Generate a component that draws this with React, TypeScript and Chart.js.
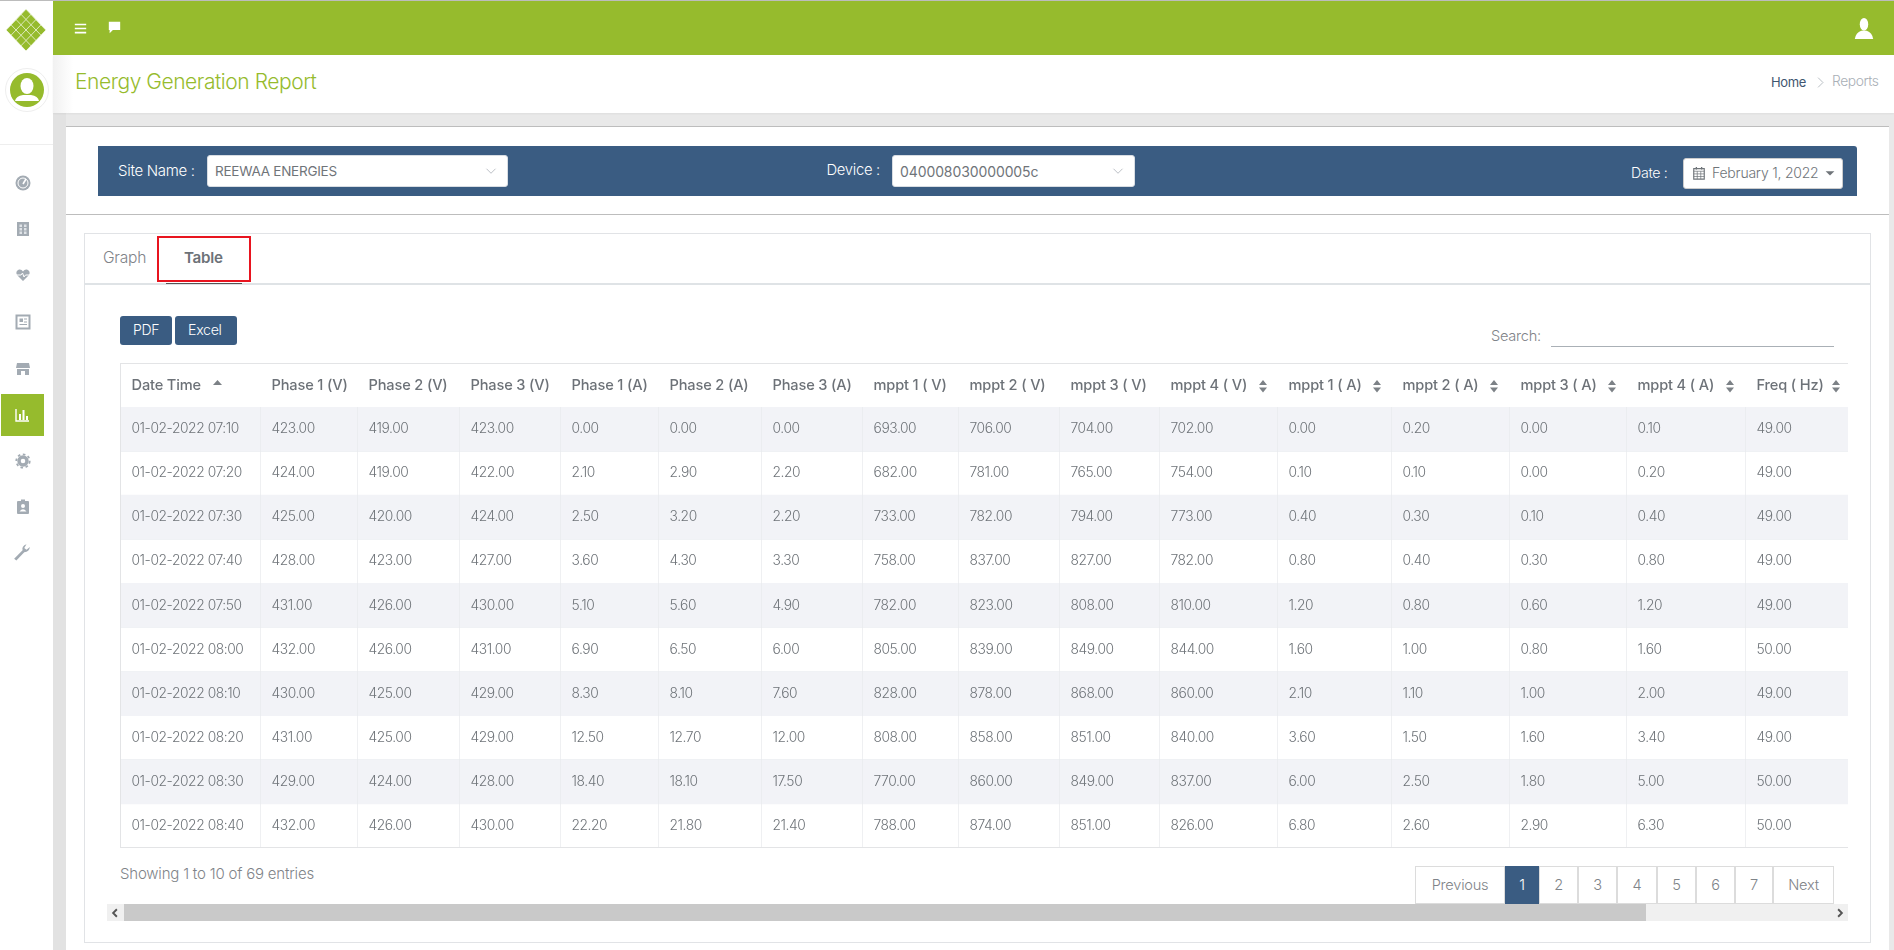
import { useEffect, useRef } from 'react'
import type { CSSProperties, ReactNode } from 'react'
import { Chart, registerables } from 'chart.js'

Chart.register(...registerables)

const FONT = 'Inter, "Noto Sans", sans-serif'
const BLUE = '#3a5c82'
const GREEN = '#96bb2d'
const TEXT = '#6f7479'

const headers = ['Date Time', 'Phase 1 (V)', 'Phase 2 (V)', 'Phase 3 (V)', 'Phase 1 (A)', 'Phase 2 (A)', 'Phase 3 (A)', 'mppt 1 ( V)', 'mppt 2 ( V)', 'mppt 3 ( V)', 'mppt 4 ( V)', 'mppt 1 ( A)', 'mppt 2 ( A)', 'mppt 3 ( A)', 'mppt 4 ( A)', 'Freq ( Hz)']
const dateTimes = ['01-02-2022 07:10', '01-02-2022 07:20', '01-02-2022 07:30', '01-02-2022 07:40', '01-02-2022 07:50', '01-02-2022 08:00', '01-02-2022 08:10', '01-02-2022 08:20', '01-02-2022 08:30', '01-02-2022 08:40']
const phase1V = [423, 424, 425, 428, 431, 432, 430, 431, 429, 432]
const phase2V = [419, 419, 420, 423, 426, 426, 425, 425, 424, 426]
const phase3V = [423, 422, 424, 427, 430, 431, 429, 429, 428, 430]
const phase1A = [0, 2.1, 2.5, 3.6, 5.1, 6.9, 8.3, 12.5, 18.4, 22.2]
const phase2A = [0, 2.9, 3.2, 4.3, 5.6, 6.5, 8.1, 12.7, 18.1, 21.8]
const phase3A = [0, 2.2, 2.2, 3.3, 4.9, 6, 7.6, 12, 17.5, 21.4]
const mppt1V = [693, 682, 733, 758, 782, 805, 828, 808, 770, 788]
const mppt2V = [706, 781, 782, 837, 823, 839, 878, 858, 860, 874]
const mppt3V = [704, 765, 794, 827, 808, 849, 868, 851, 849, 851]
const mppt4V = [702, 754, 773, 782, 810, 844, 860, 840, 837, 826]
const mppt1A = [0, 0.1, 0.4, 0.8, 1.2, 1.6, 2.1, 3.6, 6, 6.8]
const mppt2A = [0.2, 0.1, 0.3, 0.4, 0.8, 1, 1.1, 1.5, 2.5, 2.6]
const mppt3A = [0, 0, 0.1, 0.3, 0.6, 0.8, 1, 1.6, 1.8, 2.9]
const mppt4A = [0.1, 0.2, 0.4, 0.8, 1.2, 1.6, 2, 3.4, 5, 6.3]
const freq = [49, 49, 49, 49, 49, 50, 49, 49, 50, 50]
const valueColumns = [phase1V, phase2V, phase3V, phase1A, phase2A, phase3A, mppt1V, mppt2V, mppt3V, mppt4V, mppt1A, mppt2A, mppt3A, mppt4A, freq]

// column edges along the table's x scale
const columnEdges = [0, 140, 237, 339, 440, 538, 641, 742, 838, 939, 1039, 1157, 1271, 1389, 1506, 1625, 1728]
const sortArrowAt = [0, 0, 0, 0, 0, 0, 0, 0, 0, 0, 1143, 1257, 1374, 1492, 1610, 1716]

const tablePlugin = {
  id: 'tableCells',
  afterDraw(chart: any) {
    const { ctx, scales } = chart
    const x = scales.x
    const y = scales.y
    const pad = 11.5
    ctx.save()
    ctx.strokeStyle = '#e3e4e6'
    ctx.lineWidth = 1
    ctx.beginPath()
    ctx.moveTo(0, 0.5)
    ctx.lineTo(chart.width, 0.5)
    ctx.moveTo(0.5, 0)
    ctx.lineTo(0.5, chart.height)
    ctx.moveTo(0, chart.height - 0.5)
    ctx.lineTo(chart.width, chart.height - 0.5)
    ctx.stroke()

    ctx.textBaseline = 'middle'
    ctx.textAlign = 'left'
    ctx.fillStyle = '#6d7278'
    ctx.font = `500 14.6px ${FONT}`
    ctx.letterSpacing = '-0.15px'
    headers.forEach((h, c) => {
      ctx.fillText(h, x.getPixelForValue(columnEdges[c]) + pad, 23)
    })

    ctx.fillStyle = '#7c8186'
    ctx.beginPath()
    ctx.moveTo(97.5, 17)
    ctx.lineTo(102, 22)
    ctx.lineTo(93, 22)
    ctx.fill()
    sortArrowAt.forEach(at => {
      if (!at) return
      const ax = x.getPixelForValue(at)
      ctx.beginPath()
      ctx.moveTo(ax, 17)
      ctx.lineTo(ax + 4, 22)
      ctx.lineTo(ax - 4, 22)
      ctx.moveTo(ax - 4, 24.5)
      ctx.lineTo(ax + 4, 24.5)
      ctx.lineTo(ax, 29.5)
      ctx.fill()
    })

    ctx.fillStyle = TEXT
    ctx.font = `300 13.8px ${FONT}`
    ctx.letterSpacing = '-0.42px'
    dateTimes.forEach((d, r) => {
      const py = y.getPixelForValue(r)
      ctx.fillText(d, x.getPixelForValue(columnEdges[0]) + pad, py)
      valueColumns.forEach((col, c) => {
        ctx.fillText(col[r].toFixed(2), x.getPixelForValue(columnEdges[c + 1]) + pad, py)
      })
    })
    ctx.restore()
  },
}

function TableChart() {
  const canvasRef = useRef<HTMLCanvasElement>(null)

  useEffect(() => {
    if (!canvasRef.current) return
    const width = columnEdges[columnEdges.length - 1]
    const chart = new Chart(canvasRef.current, {
      type: 'bar',
      data: {
        labels: dateTimes,
        datasets: [{
          data: dateTimes.map((_, i) => (i % 2 === 0 ? width : 0)),
          backgroundColor: '#f2f3f7',
          barPercentage: 1,
          categoryPercentage: 1,
        }],
      },
      options: {
        indexAxis: 'y',
        animation: false,
        responsive: false,
        devicePixelRatio: 1,
        layout: { padding: { top: 44 } },
        plugins: { legend: { display: false }, tooltip: { enabled: false } },
        scales: {
          x: {
            type: 'linear',
            min: 0,
            max: width,
            afterBuildTicks: (scale: any) => {
              scale.ticks = columnEdges.map(value => ({ value }))
            },
            ticks: { display: false },
            border: { display: false },
            grid: { color: 'rgba(232,233,236,0.7)', drawTicks: false, z: 1 },
          },
          y: {
            ticks: { display: false },
            border: { display: false },
            grid: { color: '#eceef0', drawTicks: false, offset: true },
          },
        },
      },
      plugins: [tablePlugin],
    } as any)
    return () => chart.destroy()
  }, [])

  return <canvas ref={canvasRef} width={1728} height={485} style={{ position: 'absolute', left: 120, top: 363, width: 1728, height: 485 }} />
}

function Box({ x, y, w, h, style, children }: { x: number; y: number; w: number; h: number; style?: CSSProperties; children?: ReactNode }) {
  return <div style={{ position: 'absolute', left: x, top: y, width: w, height: h, boxSizing: 'border-box', ...style }}>{children}</div>
}

function Label({ x, y, size = 14, color = TEXT, weight = 400, spacing = -0.4, children }: { x?: number; y: number; size?: number; color?: string; weight?: number; spacing?: number; children: ReactNode }) {
  return (
    <span style={{ position: 'absolute', left: x, top: y, transform: 'translateY(-50%)', fontSize: size, color, fontWeight: weight, letterSpacing: spacing, lineHeight: 1, whiteSpace: 'nowrap', fontFamily: FONT }}>
      {children}
    </span>
  )
}

function Icon({ cx, cy, size = 16, children }: { cx: number; cy: number; size?: number; children: ReactNode }) {
  return (
    <svg viewBox="0 0 16 16" width={size} height={size} style={{ position: 'absolute', left: cx - size / 2, top: cy - size / 2 }}>
      {children}
    </svg>
  )
}

const Chevron = ({ cx, cy }: { cx: number; cy: number }) => (
  <Icon cx={cx} cy={cy} size={12}>
    <path d="M2 5 L8 11 L14 5" fill="none" stroke="#b4b9c0" strokeWidth="1.2" />
  </Icon>
)

const pages = [
  { label: 'Previous', x: 1415, w: 90 },
  { label: '1', x: 1505, w: 34 },
  { label: '2', x: 1539, w: 39 },
  { label: '3', x: 1578, w: 39 },
  { label: '4', x: 1617, w: 40 },
  { label: '5', x: 1657, w: 39 },
  { label: '6', x: 1696, w: 39 },
  { label: '7', x: 1735, w: 38 },
  { label: 'Next', x: 1773, w: 61 },
]

const sideIconColor = '#a3abb3'

export default function App() {
  useEffect(() => {
    document.body.style.margin = '0'
    document.body.style.overflow = 'hidden'
  }, [])

  return (
    <div style={{ position: 'fixed', left: 0, top: 0, width: 1894, height: 950, overflow: 'hidden', background: '#fff', fontFamily: FONT }}>
      {/* page frame */}
      <Box x={53} y={55} w={1841} h={895} style={{ background: '#e9e9e9' }} />
      <Box x={53} y={113} w={13} h={837} style={{ background: '#e2e2e2' }} />
      <Box x={53} y={55} w={1841} h={58} style={{ background: '#fff', boxShadow: '0 1px 2px rgba(0,0,0,0.05)' }} />
      <Box x={53} y={55} w={20} h={58} style={{ background: 'linear-gradient(90deg,#f1f1f1,#fff)' }} />
      <Box x={66} y={126} w={1823} h={824} style={{ background: '#fff', borderTop: '1px solid #bdbdbd' }} />
      <Box x={0} y={0} w={1894} h={1} style={{ background: '#bcbcbc' }} />
      <Box x={53} y={1} w={1841} h={54} style={{ background: GREEN }} />

      {/* sidebar */}
      <svg viewBox="0 0 40 42" width={40} height={42} style={{ position: 'absolute', left: 6, top: 9 }}>
        <path d="M20 0 L40 21 L20 42 L0 21 Z" fill={GREEN} />
        <path d="M5 5.25 L35 36.75 M10 0 L40 31.5 M0 10.5 L30 42 M35 5.25 L5 36.75 M30 0 L0 31.5 M40 10.5 L10 42 M15 -5 L45 26.5 M-5 15.75 L25 47.25 M25 -5 L-5 26.5 M45 15.75 L15 47.25" stroke="#fff" strokeWidth="0.9" opacity="0.75" />
      </svg>
      <Box x={5} y={68} w={44} h={44} style={{ borderRadius: '50%', border: '1px solid #eee', background: '#fff' }} />
      <svg viewBox="0 0 34 34" width={34} height={34} style={{ position: 'absolute', left: 10, top: 73 }}>
        <circle cx="17" cy="17" r="17" fill={GREEN} />
        <ellipse cx="17" cy="13" rx="6.5" ry="8" fill="#fff" />
        <path d="M5 28 Q6 23 13 22 L21 22 Q28 23 29 28 Z" fill="#fff" />
      </svg>
      <Box x={0} y={144} w={53} h={1} style={{ background: '#eeeeee' }} />
      <Icon cx={22.5} cy={183}><circle cx="8" cy="8" r="7.5" fill={sideIconColor} /><circle cx="8" cy="8" r="5" fill="none" stroke="#fff" strokeWidth="1" /><path d="M8 9 L11 4" stroke="#fff" strokeWidth="1.6" /></Icon>
      <Icon cx={22.5} cy={229}><rect x="2" y="1" width="12" height="14" fill={sideIconColor} /><path d="M4.5 3.5 H7 V6 H4.5 Z M9 3.5 H11.5 V6 H9 Z M4.5 7 H7 V9.5 H4.5 Z M9 7 H11.5 V9.5 H9 Z M4.5 10.5 H7 V13 H4.5 Z M9 10.5 H11.5 V13 H9 Z" fill="#dfe3e7" /></Icon>
      <Icon cx={22.5} cy={275}><path d="M8 14 L2 8 Q0 4 4 2.5 Q6.5 2 8 4.5 Q9.5 2 12 2.5 Q16 4 14 8 Z" fill={sideIconColor} /><path d="M1 8 H6 L7.5 6 L9 10 L10.5 8 H15" fill="none" stroke="#fff" strokeWidth="1" /></Icon>
      <Icon cx={22.5} cy={322}><rect x="1.5" y="1.5" width="13" height="13" fill="none" stroke={sideIconColor} strokeWidth="2" /><rect x="4.5" y="4.5" width="3.5" height="3.5" fill={sideIconColor} /><path d="M9 5 H12 M9 8 H12 M4.5 10.5 H12" stroke={sideIconColor} /></Icon>
      <Icon cx={22.5} cy={369}><path d="M2 2 H14 L15 7 H1 Z M2 8 H14 V14 H10 V10 H6 V14 H2 Z" fill={sideIconColor} /></Icon>
      <Box x={1} y={394} w={43} h={42} style={{ background: GREEN }} />
      <Icon cx={22} cy={415}><path d="M2 2 V14 H15" fill="none" stroke="#fff" strokeWidth="1.4" /><path d="M5 7 H7 V13 H5 Z M8.5 3 H10.5 V13 H8.5 Z M12 9 H14 V13 H12 Z" fill="#fff" /></Icon>
      <Icon cx={22.5} cy={461}><circle cx="8" cy="8" r="4" fill="none" stroke={sideIconColor} strokeWidth="3.4" /><circle cx="8" cy="8" r="6.7" fill="none" stroke={sideIconColor} strokeWidth="1.8" strokeDasharray="2.6 2.6" /></Icon>
      <Icon cx={22.5} cy={507}><rect x="2" y="2" width="12" height="13" rx="1" fill={sideIconColor} /><rect x="6" y="0.5" width="4" height="3" fill={sideIconColor} /><circle cx="8" cy="7" r="2" fill="#fff" /><path d="M4.5 12.5 Q8 8 11.5 12.5 Z" fill="#fff" /></Icon>
      <Icon cx={22} cy={552} size={18}><path d="M1 14 L8.5 6.5 Q7.5 2.5 12 1 L10 4.5 L12 6 L15 3.5 Q14.5 8 10 8.2 L3 15.5 Z" fill={sideIconColor} /></Icon>

      {/* top bar */}
      <Icon cx={80} cy={28} size={13}><path d="M1 3 H15 M1 8 H15 M1 13 H15" stroke="#fff" strokeWidth="2" /></Icon>
      <Icon cx={114} cy={27} size={13}><path d="M1 1 H15 V11 H6 L2 15 V11 H1 Z" fill="#fff" /></Icon>
      <svg viewBox="0 0 20 24" width={20} height={22} style={{ position: 'absolute', left: 1854, top: 17 }}>
        <ellipse cx="10" cy="8" rx="4.6" ry="7" fill="#fff" />
        <path d="M0 24 Q1 17 7 15 L13 15 Q19 17 20 24 Z" fill="#fff" />
      </svg>

      {/* title row */}
      <Label x={75} y={81} size={21} color={GREEN} weight={300} spacing={-0.45}>Energy Generation Report</Label>
      <Label x={1771} y={82} size={13} color="#3f5670">Home</Label>
      <Icon cx={1820} cy={82} size={13}><path d="M5 2 L11 8 L5 14" fill="none" stroke="#a9afb6" strokeWidth="1" /></Icon>
      <Label x={1832} y={82} size={13.8} color="#a9afb6" weight={300}>Reports</Label>

      {/* filter bar */}
      <Box x={98} y={146} w={1759} h={50} style={{ background: BLUE, borderRadius: '0 3px 0 0' }} />
      <Label x={118} y={170} size={15} color="#fff" weight={300} spacing={-0.3}>Site Name :</Label>
      <Box x={207} y={155} w={301} h={32} style={{ background: '#fff', borderRadius: 3, border: '1px solid #d8dde3' }} />
      <Label x={215} y={172} size={13.5} color="#6f7479" spacing={-0.25}>REEWAA ENERGIES</Label>
      <Chevron cx={491} cy={171} />
      <Label x={826.5} y={170} size={14.8} color="#fff" weight={300} spacing={-0.3}>Device :</Label>
      <Box x={892} y={155} w={243} h={32} style={{ background: '#fff', borderRadius: 3, border: '1px solid #d8dde3' }} />
      <Label x={900} y={172} size={14} color="#6f7479" spacing={-0.1}>040008030000005c</Label>
      <Chevron cx={1118} cy={171} />
      <Label x={1631} y={173} size={14.2} color="#fff" weight={300} spacing={-0.3}>Date :</Label>
      <Box x={1683} y={158} w={160} h={31} style={{ background: '#fff', borderRadius: 3, border: '1px solid #ccc' }} />
      <Icon cx={1698.5} cy={173} size={14}><path d="M2 3 H14 V15 H2 Z" fill="none" stroke="#6f7479" strokeWidth="1.3" /><path d="M2 6 H14 M2 9 H14 M2 12 H14 M6 6 V15 M10 6 V15" stroke="#6f7479" strokeWidth="0.8" /><path d="M5 1 V4 M11 1 V4" stroke="#6f7479" strokeWidth="1.5" /></Icon>
      <Label x={1712} y={173} size={14} color="#6f7479" weight={300} spacing={-0.22}>February 1, 2022</Label>
      <Icon cx={1830} cy={173} size={10}><path d="M1 5 H15 L8 12 Z" fill="#6f7479" /></Icon>
      <Box x={66} y={214} w={1823} h={1} style={{ background: '#bdbdbd' }} />

      {/* tab card */}
      <Box x={84} y={233} w={1787} h={710} style={{ border: '1px solid #e1e3e6' }} />
      <Box x={85} y={283} w={1785} h={2} style={{ background: '#dfe3e6' }} />
      <Label x={103} y={258} size={15.6} color="#7f8489" weight={300} spacing={-0.25}>Graph</Label>
      <Label x={184} y={258} size={15.2} color="#6d7278" weight={600} spacing={-0.3}>Table</Label>
      <Box x={166} y={283} w={76} h={1} style={{ background: '#555' }} />
      <Box x={157} y={236} w={94} h={46} style={{ border: '2.5px solid #e8141f' }} />

      {/* table toolbar */}
      <Box x={120} y={316} w={52} h={29} style={{ background: BLUE, borderRadius: 3 }} />
      <Label x={133} y={330} size={14} color="#fff" weight={300} spacing={-0.3}>PDF</Label>
      <Box x={175} y={316} w={62} h={29} style={{ background: BLUE, borderRadius: 3 }} />
      <Label x={188} y={330} size={14.2} color="#fff" weight={300} spacing={-0.3}>Excel</Label>
      <Label x={1491} y={336} size={14.6} color="#7f8489" weight={300} spacing={-0.25}>Search:</Label>
      <Box x={1551} y={346} w={283} h={1} style={{ background: '#aab0b6' }} />

      <TableChart />

      {/* footer */}
      <Label x={120} y={873} size={15} color="#7f8489" weight={300} spacing={-0.2}>Showing 1 to 10 of 69 entries</Label>
      {pages.map(p => (
        <Box key={p.label} x={p.x} y={866} w={p.w} h={38} style={{ background: p.label === '1' ? BLUE : '#fff', border: `1px solid ${p.label === '1' ? BLUE : '#dcdcdc'}`, display: 'flex', alignItems: 'center', justifyContent: 'center', fontSize: 14.6, fontWeight: 300, letterSpacing: -0.25, color: p.label === '1' ? '#fff' : '#7f8489', fontFamily: FONT }}>
          {p.label}
        </Box>
      ))}
      <Box x={107} y={904} w={1741} h={17} style={{ background: '#f0f0f0' }} />
      <Box x={124} y={904} w={1522} h={17} style={{ background: '#c9c9c9' }} />
      <Icon cx={115} cy={912.5} size={10}><path d="M11 2 L5 8 L11 14" fill="none" stroke="#555" strokeWidth="3" /></Icon>
      <Icon cx={1840} cy={912.5} size={10}><path d="M5 2 L11 8 L5 14" fill="none" stroke="#555" strokeWidth="3" /></Icon>
    </div>
  )
}
